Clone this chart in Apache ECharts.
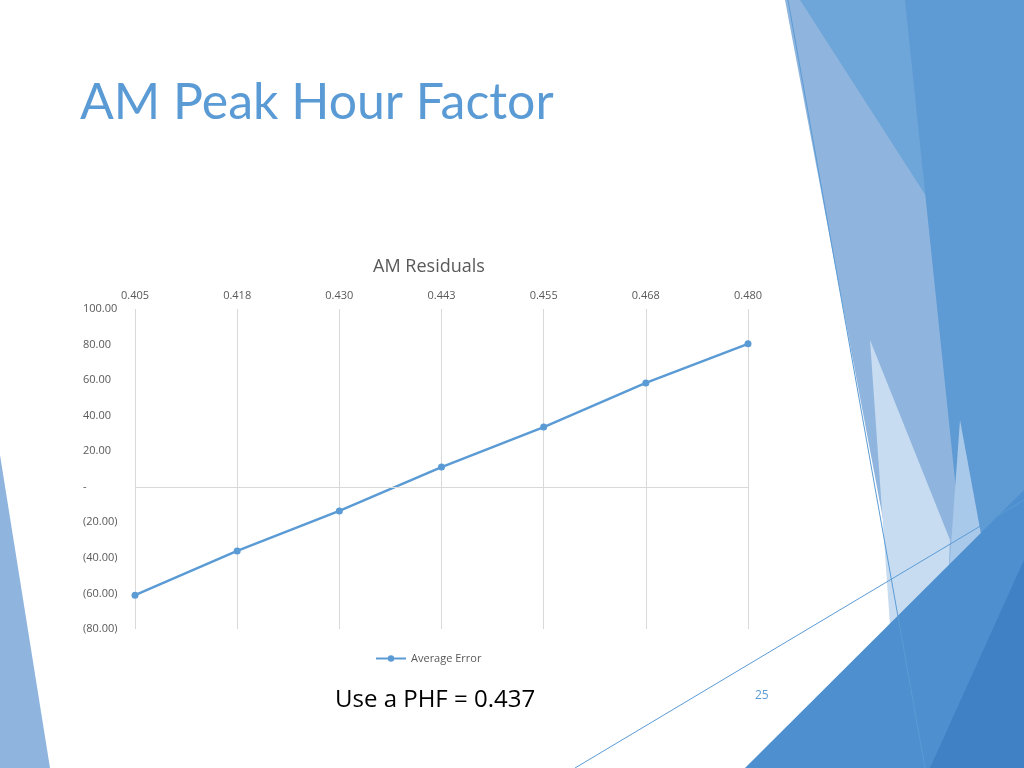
<!DOCTYPE html>
<html>
<head>
<meta charset="utf-8">
<script src="https://cdn.jsdelivr.net/npm/echarts@6/dist/echarts.min.js"></script>
<style>html,body{margin:0;padding:0;background:#fff;}#main{width:1024px;height:768px;}</style>
</head>
<body>
<div id="main"></div>
<script>
var categories = ['0.405', '0.418', '0.430', '0.443', '0.455', '0.468', '0.480'];
var averageError = [-61.0, -36.1, -13.6, 11.1, 33.6, 58.4, 80.4];
var seriesName = 'Average Error';

var myChart = echarts.init(document.getElementById('main'));

function fmt(v) {
    if (v === 0) return '-';
    var s = Math.abs(v).toFixed(2);
    return v < 0 ? '(' + s + ')' : s;
}

var option = {
    backgroundColor: '#fff',
    animation: false,
    title: {
        text: 'AM Residuals',
        left: 424, top: 253, textAlign: 'center',
        textStyle: {color: '#595959', fontSize: 18, fontWeight: 'normal', fontFamily: 'Open Sans'}
    },
    legend: {
        data: [seriesName],
        top: 648, left: 370,
        itemWidth: 30, itemHeight: 8, itemGap: 4,
        textStyle: {color: '#595959', fontSize: 11, fontFamily: 'Open Sans'}
    },
    grid: {left: 135, right: 276, top: 309, bottom: 139, containLabel: false},
    xAxis: {
        type: 'category',
        position: 'top',
        boundaryGap: false,
        data: categories,
        axisLine: {show: false},
        axisTick: {show: false},
        axisLabel: {color: '#595959', fontSize: 11, margin: 8, fontFamily: 'Open Sans'},
        splitLine: {show: true, lineStyle: {color: '#d9d9d9'}}
    },
    yAxis: {
        type: 'value',
        min: -80, max: 100, interval: 20,
        axisLine: {show: false},
        axisTick: {show: false},
        splitLine: {show: false},
        axisLabel: {color: '#595959', fontSize: 11, align: 'left', margin: 52, fontFamily: 'Open Sans', formatter: fmt}
    },
    series: [{
        name: seriesName,
        type: 'line',
        data: averageError,
        color: '#5b9bd5',
        symbol: 'circle',
        symbolSize: 7,
        lineStyle: {width: 2.5},
        markLine: {
            silent: true, symbol: 'none', label: {show: false},
            lineStyle: {color: '#d9d9d9', type: 'solid', width: 1},
            data: [{yAxis: 0}]
        }
    }],
    graphic: [
        {type: 'polygon', z: -1, shape: {points: [[785,0],[1024,0],[1024,768],[930,768]]}, style: {fill: '#8fb5de'}},
        {type: 'polygon', z: -1, shape: {points: [[800,0],[1024,0],[1024,430],[935,210]]}, style: {fill: '#6fa6d9'}},
        {type: 'polygon', z: -1, shape: {points: [[905,0],[1024,0],[1024,768],[985,768]]}, style: {fill: '#5e9ad3'}},
        {type: 'polygon', z: -1, shape: {points: [[960,420],[1024,768],[935,768]]}, style: {fill: '#a9c9ea'}},
        {type: 'polygon', z: -1, shape: {points: [[870,340],[950,540],[940,768],[900,768]]}, style: {fill: '#c8dcf1'}},
        {type: 'polygon', z: -1, shape: {points: [[1024,490],[1024,768],[745,768]]}, style: {fill: '#4d8fcf'}},
        {type: 'polygon', z: -1, shape: {points: [[1024,560],[1024,768],[930,768]]}, style: {fill: '#3f81c4'}},
        {type: 'polygon', z: -1, shape: {points: [[0,455],[50,768],[0,768]]}, style: {fill: '#8fb5de'}},
        {type: 'line', shape: {x1: 788, y1: 0, x2: 925, y2: 768}, style: {stroke: '#5b9bd5', lineWidth: 1}},
        {type: 'line', shape: {x1: 575, y1: 768, x2: 1024, y2: 500}, style: {stroke: '#5b9bd5', lineWidth: 1}},
        {type: 'text', left: 80, top: 78, style: {text: 'AM Peak Hour Factor', fill: '#5b9bd5', fontSize: 50, fontFamily: 'Lato'}},
        {type: 'text', left: 335, top: 688, style: {text: 'Use a PHF = 0.437', fill: '#000', fontSize: 24, fontFamily: 'Open Sans'}},
        {type: 'text', left: 755, top: 690, style: {text: '25', fill: '#5b9bd5', fontSize: 12, fontFamily: 'Open Sans'}}
    ]
};
myChart.setOption(option, true);
</script>
</body>
</html>
